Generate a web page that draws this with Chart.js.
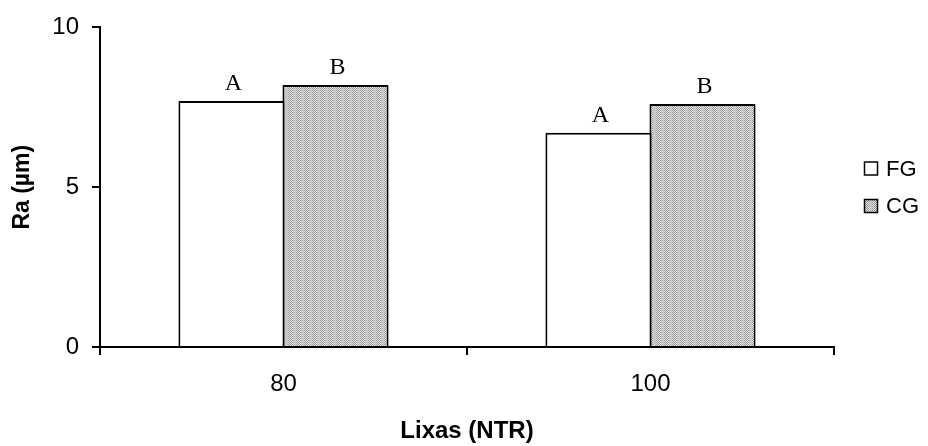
<!DOCTYPE html>
<html>
<head>
<meta charset="utf-8">
<script src="https://cdn.jsdelivr.net/npm/chart.js@4.4.0/dist/chart.umd.min.js"></script>
<style>
  html, body { margin:0; padding:0; background:#fff; }
  #wrap { width:928px; height:446px; position:relative; }
</style>
</head>
<body>
<div id="wrap"><canvas id="chart" width="928" height="446"></canvas></div>
<script>
const categories = ['80', '100'];
const seriesNames = ['FG', 'CG'];
const fgValues = [7.7, 6.7];
const cgValues = [8.2, 7.6];
const fgLetters = ['A', 'A'];
const cgLetters = ['B', 'B'];
const yTicks = [0, 5, 10];

const SANS = '"Liberation Sans", Arial, sans-serif';

// gray dither with vertical light stripes, like the old spreadsheet fill
function makePattern(){
  const c = document.createElement('canvas');
  c.width = 8; c.height = 2;
  const g = c.getContext('2d');
  for (let x = 0; x < 8; x++){
    for (let y = 0; y < 2; y++){
      if (x >= 5) g.fillStyle = '#c8c8c8';
      else g.fillStyle = (x + y) % 2 === 0 ? '#8a8a8a' : '#f0f0f0';
      g.fillRect(x, y, 1, 1);
    }
  }
  return g.createPattern(c, 'repeat');
}

const cgFill = makePattern();

const letterPlugin = {
  id: 'letters',
  afterDatasetsDraw(chart){
    const ctx = chart.ctx;
    ctx.save();
    ctx.font = '24px "Liberation Serif", "Times New Roman", serif';
    ctx.fillStyle = '#000';
    ctx.textAlign = 'center';
    ctx.textBaseline = 'alphabetic';
    [fgLetters, cgLetters].forEach((letters, di) => {
      const meta = chart.getDatasetMeta(di);
      meta.data.forEach((bar, i) => {
        ctx.fillText(letters[i], bar.x + 2, bar.y - 11);
      });
    });
    ctx.restore();
  }
};

const legendPlugin = {
  id: 'sideLegend',
  afterDraw(chart){
    const ctx = chart.ctx;
    ctx.save();
    ctx.font = '22px ' + SANS;
    ctx.textBaseline = 'middle';
    ctx.textAlign = 'left';
    const fills = ['#fff', cgFill];
    fills.forEach((fill, i) => {
      const y = 168.5 + i * 37.5;
      ctx.fillStyle = fill;
      ctx.fillRect(864.5, y - 6.5, 13, 13);
      ctx.strokeStyle = '#000';
      ctx.lineWidth = 1.5;
      ctx.strokeRect(864.5, y - 6.5, 13, 13);
      ctx.fillStyle = '#000';
      ctx.fillText(seriesNames[i], 886, y + 1);
    });
    ctx.restore();
  }
};

new Chart(document.getElementById('chart'), {
  type: 'bar',
  data: {
    labels: categories,
    datasets: [
      { label: seriesNames[0], data: fgValues, backgroundColor: '#fff', borderColor: '#000', borderWidth: 2 },
      { label: seriesNames[1], data: cgValues, backgroundColor: cgFill, borderColor: '#000', borderWidth: 2 },
    ]
  },
  options: {
    responsive: false,
    animation: false,
    devicePixelRatio: 1,
    layout: { padding: { top: 22, right: 94, left: 0, bottom: 0 } },
    // bars overlap by ~2px so the shared edge is a single line
    datasets: { bar: { categoryPercentage: 0.567, barPercentage: 1.02 } },
    plugins: { legend: { display: false }, tooltip: { enabled: false } },
    scales: {
      x: {
        grid: { offset: true, drawOnChartArea: false, tickLength: 8, color: '#000', lineWidth: 2 },
        border: { color: '#000', width: 2 },
        ticks: { color: '#000', font: { family: SANS, size: 24 }, padding: 15 },
        title: { display: true, text: 'Lixas (NTR)', color: '#000',
          font: { family: SANS, size: 24, weight: 'bold' }, padding: { top: 0, bottom: 0 } },
        afterFit(scale){ scale.height = 99; }
      },
      y: {
        min: yTicks[0], max: yTicks[yTicks.length - 1],
        afterBuildTicks(scale){ scale.ticks = yTicks.map(v => ({ value: v })); },
        grid: { drawOnChartArea: false, tickLength: 8, color: '#000', lineWidth: 2 },
        border: { color: '#000', width: 2 },
        ticks: { color: '#000', font: { family: SANS, size: 24 }, padding: 13 },
        title: { display: true, text: 'Ra (µm)', color: '#000',
          font: { family: SANS, size: 23, weight: 'bold' }, padding: { top: 9, bottom: 0 } },
        afterFit(scale){ scale.width = 100; }
      }
    }
  },
  plugins: [letterPlugin, legendPlugin]
});
</script>
</body>
</html>
